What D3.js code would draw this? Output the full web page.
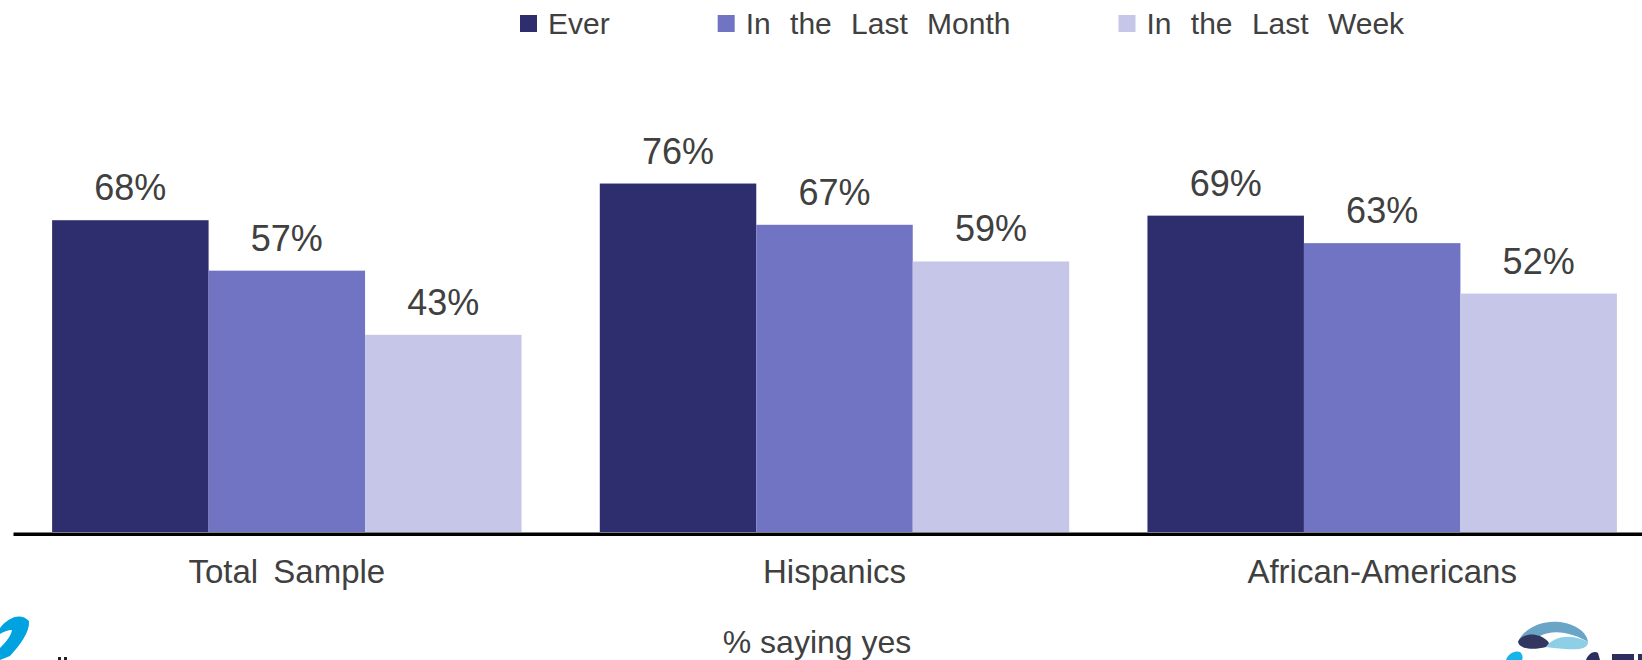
<!DOCTYPE html>
<html>
<head>
<meta charset="utf-8">
<script src="https://cdn.jsdelivr.net/npm/d3@7"></script>
<style>
  html, body { margin: 0; padding: 0; background: #ffffff; }
  svg { display: block; font-family: "Liberation Sans", Arial, sans-serif; }
</style>
</head>
<body>
<svg id="chart" width="1642" height="660"></svg>
<script>
// Survey results by group
const categories = ["Total Sample", "Hispanics", "African-Americans"];
const seriesNames = ["Ever", "In the Last Month", "In the Last Week"];
const everValues = [68, 76, 69];
const lastMonthValues = [57, 67, 63];
const lastWeekValues = [43, 59, 52];
const seriesColors = ["#2e2d6d", "#7173c3", "#c6c6e8"];
const axisTitle = "% saying yes";

const series = [everValues, lastMonthValues, lastWeekValues];
const rows = categories.map((c, i) => ({
  category: c,
  values: seriesNames.map((s, j) => ({ series: s, idx: j, value: series[j][i] }))
}));

const svg = d3.select("#chart");
const textColor = "#404040";

// Scales: groups with a 50% gap between them, bars within a group touch
const x0 = d3.scaleBand()
  .domain(categories)
  .range([13, 1656])
  .paddingInner(1 / 7)
  .paddingOuter(1 / 14);

const x1 = d3.scaleBand()
  .domain(seriesNames)
  .range([0, x0.bandwidth()])
  .padding(0);

const baseY = 532;
const y = d3.scaleLinear().domain([0, 100]).range([baseY, 73.5]);

// Bars
const groups = svg.append("g").selectAll("g")
  .data(rows)
  .join("g")
  .attr("transform", d => `translate(${x0(d.category)},0)`);

groups.selectAll("rect")
  .data(d => d.values)
  .join("rect")
  .attr("x", d => x1(d.series))
  .attr("y", d => y(d.value))
  .attr("width", x1.bandwidth())
  .attr("height", d => y(0) - y(d.value))
  .attr("fill", d => seriesColors[d.idx]);

// Value labels
groups.selectAll("text.value")
  .data(d => d.values)
  .join("text")
  .attr("class", "value")
  .attr("x", d => x1(d.series) + x1.bandwidth() / 2)
  .attr("y", d => y(d.value) - 20)
  .attr("text-anchor", "middle")
  .attr("font-size", 36)
  .attr("fill", textColor)
  .text(d => d.value + "%");

// Category axis
const axis = svg.append("g")
  .attr("transform", `translate(0,${baseY + 1.75})`)
  .call(d3.axisBottom(x0).tickSize(0).tickPadding(0));
axis.select(".domain").attr("stroke", "#000").attr("stroke-width", 3.5);
axis.selectAll(".tick text")
  .attr("y", 49)
  .attr("dy", 0)
  .attr("font-size", 33)
  .attr("font-family", "Liberation Sans, Arial, sans-serif")
  .attr("word-spacing", 6)
  .attr("fill", textColor);

// Axis title
svg.append("text")
  .attr("x", 817)
  .attr("y", 653)
  .attr("text-anchor", "middle")
  .attr("font-size", 32)
  .attr("fill", textColor)
  .text(axisTitle);

// Legend
const legend = svg.append("g").attr("transform", "translate(520,0)");
let lx = 0;
seriesNames.forEach((name, i) => {
  legend.append("rect")
    .attr("x", lx).attr("y", 15)
    .attr("width", 17).attr("height", 17)
    .attr("fill", seriesColors[i]);
  const t = legend.append("text")
    .attr("x", lx + 28).attr("y", 34)
    .attr("font-size", 30)
    .attr("word-spacing", 11)
    .attr("fill", textColor)
    .text(name);
  lx += 28 + t.node().getComputedTextLength() + 108;
});

// Corner logos
const logos = svg.append("g");
// left swoosh
logos.append("path")
  .attr("d", "M0,628 C8,618 20,612 29,621 C30,632 20,645 10,656 L0,660 L0,648 C6,642 11,636 12,630 C8,630 3,632 0,634 Z")
  .attr("fill", "#00a3e0");
logos.append("rect").attr("x", 58).attr("y", 657).attr("width", 3).attr("height", 3).attr("fill", "#222");
logos.append("rect").attr("x", 64).attr("y", 657).attr("width", 3).attr("height", 3).attr("fill", "#222");
// right emblem
logos.append("path")
  .attr("d", "M1518,642 C1525,626 1545,620 1560,622 C1575,624 1587,632 1588,642 C1575,634 1555,628 1540,636 Z")
  .attr("fill", "#6aa4c6");
logos.append("path")
  .attr("d", "M1518,642 C1520,636 1530,632 1540,636 C1548,640 1552,644 1546,647 C1535,650 1520,650 1518,642 Z")
  .attr("fill", "#333760");
logos.append("path")
  .attr("d", "M1546,647 C1552,638 1568,632 1588,642 C1588,649 1578,650 1566,649 C1556,648 1550,648 1546,647 Z")
  .attr("fill", "#8ccfe6");
logos.append("path")
  .attr("d", "M1506,660 C1508,654 1514,650 1520,652 C1523,655 1523,658 1522,660 Z")
  .attr("fill", "#16b4e8");
logos.append("path")
  .attr("d", "M1586,660 C1588,654 1594,650 1598,653 L1600,660 Z")
  .attr("fill", "#2c2f5e");
// wordmark fragment at the lower edge
logos.append("rect").attr("x", 1612).attr("y", 654).attr("width", 22).attr("height", 6).attr("fill", "#2c2f5e");
logos.append("rect").attr("x", 1638).attr("y", 654).attr("width", 4).attr("height", 6).attr("fill", "#2c2f5e");
</script>
</body>
</html>
